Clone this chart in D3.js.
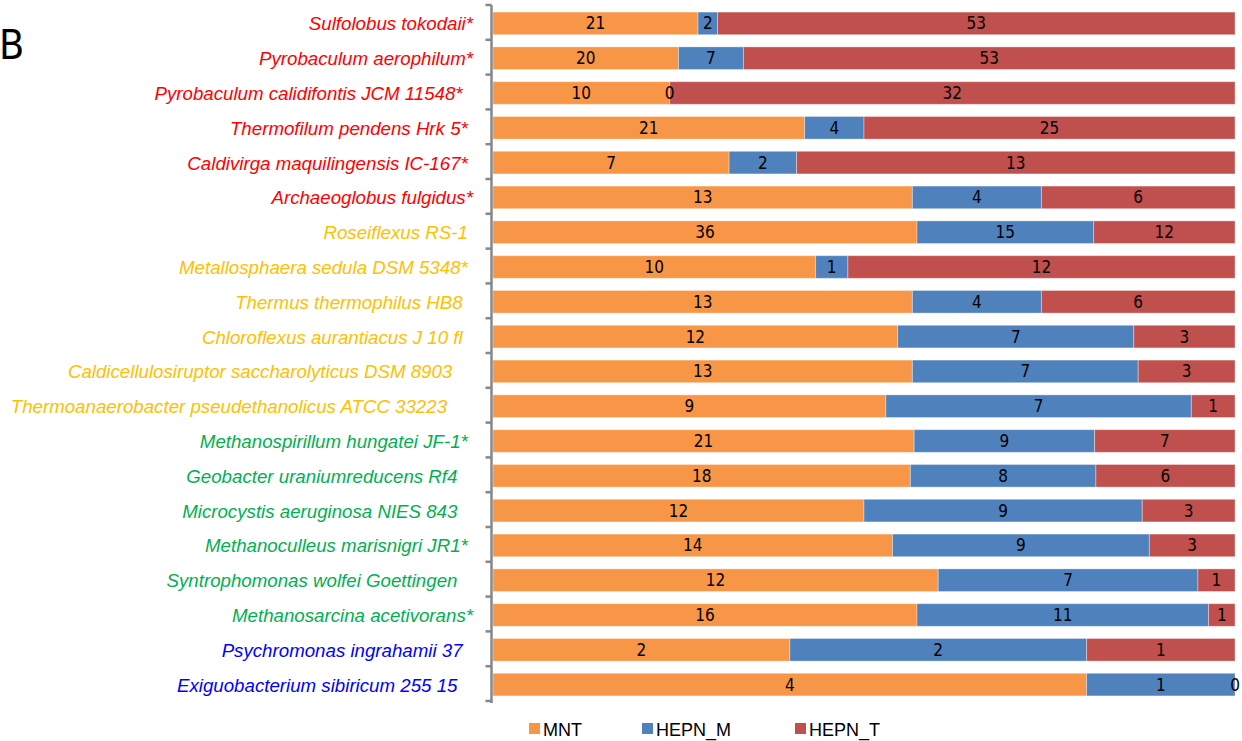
<!DOCTYPE html>
<html>
<head>
<meta charset="utf-8">
<script src="https://cdn.jsdelivr.net/npm/d3@7"></script>
<style>
  html, body { margin: 0; padding: 0; background: #fff; }
  svg { display: block; }
  .cat { white-space: pre; }
</style>
</head>
<body>
<svg id="chart" width="1242" height="741"></svg>
<script>
// Organisms (top to bottom); trailing spaces keep the original label spacing
const organisms = [
  "Sulfolobus tokodaii*",
  "Pyrobaculum aerophilum*",
  "Pyrobaculum calidifontis JCM 11548*  ",
  "Thermofilum pendens Hrk 5* ",
  "Caldivirga maquilingensis IC-167* ",
  "Archaeoglobus fulgidus*",
  "Roseiflexus RS-1 ",
  "Metallosphaera sedula DSM 5348* ",
  "Thermus thermophilus HB8  ",
  "Chloroflexus aurantiacus J 10 fl  ",
  "Caldicellulosiruptor saccharolyticus DSM 8903    ",
  "Thermoanaerobacter pseudethanolicus ATCC 33223     ",
  "Methanospirillum hungatei JF-1* ",
  "Geobacter uraniumreducens Rf4   ",
  "Microcystis aeruginosa NIES 843   ",
  "Methanoculleus marisnigri JR1* ",
  "Syntrophomonas wolfei Goettingen   ",
  "Methanosarcina acetivorans*",
  "Psychromonas ingrahamii 37  ",
  "Exiguobacterium sibiricum 255 15   "
];

// Growth-temperature class of each organism (sets the label colour)
const tempClass = [
  "hyperthermophile", "hyperthermophile", "hyperthermophile", "hyperthermophile",
  "hyperthermophile", "hyperthermophile",
  "thermophile", "thermophile", "thermophile", "thermophile", "thermophile", "thermophile",
  "mesophile", "mesophile", "mesophile", "mesophile", "mesophile", "mesophile",
  "psychrophile", "psychrophile"
];

// Gene counts per family
const seriesNames = ["MNT", "HEPN_M", "HEPN_T"];
const mnt    = [21, 20, 10, 21, 7, 13, 36, 10, 13, 12, 13, 9, 21, 18, 12, 14, 12, 16, 2, 4];
const hepnM  = [ 2,  7,  0,  4, 2,  4, 15,  1,  4,  7,  7, 7,  9,  8,  9,  9,  7, 11, 2, 1];
const hepnT  = [53, 53, 32, 25, 13, 6, 12, 12,  6,  3,  3, 1,  7,  6,  3,  3,  1,  1, 1, 0];

const seriesColor = { "MNT": "#F79646", "HEPN_M": "#4F81BD", "HEPN_T": "#C0504D" };
const classColor = {
  hyperthermophile: "#FF0000",
  thermophile: "#FFC000",
  mesophile: "#00B050",
  psychrophile: "#0000FF"
};

const rows = organisms.map((name, i) => ({
  name, cls: tempClass[i], MNT: mnt[i], HEPN_M: hepnM[i], HEPN_T: hepnT[i]
}));

const svg = d3.select("#chart");

const x = d3.scaleLinear().domain([0, 1]).range([493, 1235]);
const y = d3.scaleBand().domain(organisms).range([6, 702])
  .paddingInner(0.35).paddingOuter(0.175);

const stacked = d3.stack().keys(seriesNames).offset(d3.stackOffsetExpand)(rows);
const segments = stacked.flatMap(layer => layer.map(s => ({ s, key: layer.key })));

// bars
svg.append("g").selectAll("rect")
  .data(segments)
  .join("rect")
  .attr("fill", d => seriesColor[d.key])
  .attr("x", d => x(d.s[0]))
  .attr("y", d => y(d.s.data.name))
  .attr("width", d => Math.max(0, x(d.s[1]) - x(d.s[0])))
  .attr("height", y.bandwidth())
  .attr("stroke", "#ffffff")
  .attr("stroke-opacity", 0.35)
  .attr("stroke-width", 1);

// value labels at segment centres, drawn above all bars
svg.append("g").selectAll("text")
  .data(segments)
  .join("text")
  .attr("x", d => x((d.s[0] + d.s[1]) / 2))
  .attr("y", d => y(d.s.data.name) + y.bandwidth() / 2 + 6)
  .attr("text-anchor", "middle")
  .attr("fill", "#000")
  .style("font-family", "'Liberation Sans Narrow', 'DejaVu Sans Condensed', sans-serif")
  .style("font-size", "17px")
  .text(d => d.s.data[d.key]);

// category axis: vertical line with ticks between rows
const axisX = 491.5;
const step = y.step();
const r0 = y.range()[0];
const axis = svg.append("g").attr("stroke", "#878787").attr("stroke-width", 2.5);
axis.append("line")
  .attr("x1", axisX).attr("x2", axisX)
  .attr("y1", r0 - 1).attr("y2", y.range()[1] + 1);
axis.selectAll("line.tick")
  .data(d3.range(organisms.length + 1))
  .join("line")
  .attr("class", "tick")
  .attr("x1", axisX - 6).attr("x2", axisX)
  .attr("y1", i => r0 + i * step - 1)
  .attr("y2", i => r0 + i * step - 1);

// category labels
svg.append("g").selectAll("text")
  .data(rows).join("text")
  .attr("class", "cat")
  .attr("x", 473)
  .attr("y", d => y(d.name) + y.bandwidth() / 2 + 7)
  .attr("text-anchor", "end")
  .attr("fill", d => classColor[d.cls])
  .style("font-family", "'Liberation Sans', Arial, sans-serif")
  .style("font-style", "italic")
  .style("font-size", "18.7px")
  .text(d => d.name);

// panel letter
svg.append("text")
  .attr("x", -1).attr("y", 59)
  .style("font-family", "'Liberation Sans Narrow', 'DejaVu Sans Condensed', sans-serif")
  .style("font-size", "41px")
  .attr("fill", "#000")
  .text("B");

// legend
const legendX = [529, 642, 795];
const legend = svg.append("g").selectAll("g")
  .data(seriesNames).join("g")
  .attr("transform", (d, i) => `translate(${legendX[i]},723)`);
legend.append("rect")
  .attr("width", 11).attr("height", 11)
  .attr("fill", d => seriesColor[d]);
legend.append("text")
  .attr("x", 14).attr("y", 13)
  .attr("fill", "#000")
  .style("font-family", "'Liberation Sans', Arial, sans-serif")
  .style("font-size", "18px")
  .text(d => d);
</script>
</body>
</html>
